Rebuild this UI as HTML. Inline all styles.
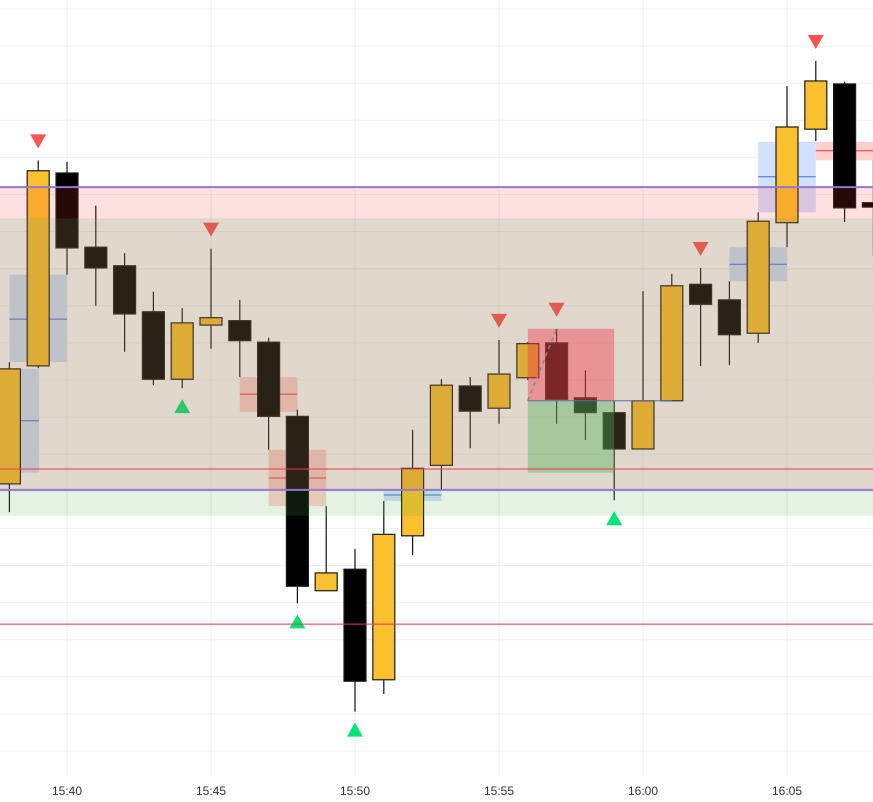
<!DOCTYPE html>
<html><head><meta charset="utf-8"><style>
html,body{margin:0;padding:0;background:#fff;}
svg{display:block;font-family:"Liberation Sans",sans-serif;}
</style></head><body>
<svg id="chart" width="873" height="802" viewBox="0 0 873 802" xmlns="http://www.w3.org/2000/svg">
<g id="grid"></g>
<g id="boxes"></g>
<g id="candles"></g>
<g id="markers"></g>
<g id="zones"></g>
<g id="position"></g>
<g id="lines"></g>
<g id="xaxis"></g>
</svg>
<script>
// minutes relative to 15:40 for each candle
const minutes = [-2,-1,0,1,2,3,4,5,6,7,8,9,10,11,12,13,14,15,16,17,18,19,20,21,22,23,24,25,26,27,28];
const opens  = [4536.0,4551.9,4577.9,4567.9,4565.4,4559.2,4550.1,4557.4,4558.0,4555.1,4545.1,4521.6,4524.5,4509.6,4529.0,4538.5,4549.2,4546.2,4550.3,4555.0,4547.6,4545.6,4540.7,4547.2,4562.9,4560.8,4556.3,4571.2,4583.8,4589.9,4573.9];
const highs  = [4552.4,4579.6,4579.4,4573.5,4567.1,4561.9,4559.7,4567.7,4560.8,4555.7,4546.0,4533.0,4527.2,4533.7,4543.3,4550.1,4550.4,4555.4,4555.1,4556.9,4551.3,4547.2,4562.0,4564.3,4565.1,4563.3,4572.6,4589.6,4593.0,4590.2,4579.6];
const lows   = [4532.2,4551.6,4564.2,4560.0,4553.8,4549.3,4548.9,4554.2,4550.4,4540.6,4519.9,4521.6,4505.3,4507.7,4526.4,4535.3,4540.8,4544.1,4550.0,4544.1,4541.9,4533.8,4540.7,4547.2,4551.9,4552.0,4555.0,4567.9,4582.2,4571.3,4566.8];
const closes = [4551.5,4578.2,4567.8,4565.1,4558.9,4550.1,4557.7,4558.4,4555.3,4545.1,4522.2,4524.0,4509.4,4529.2,4538.1,4549.3,4545.8,4550.8,4554.9,4547.4,4545.6,4540.7,4547.2,4562.7,4560.2,4556.1,4571.4,4584.1,4590.3,4573.2,4573.3];
const sellSignals = [1,7,17,19,24,28];
const buySignals = [6,10,12,21];
const tickMinutes = [0,5,10,15,20,25];
const tickLabels = ["15:40","15:45","15:50","15:55","16:00","16:05"];
const gridPrices = [4600,4595,4590,4585,4580,4575,4570,4565,4560,4555,4550,4545,4540,4535,4530,4525,4520,4515,4510,4505,4500];
// boxes: [startMin, endMin, top, bottom, mid]
const blueBoxStart = [-2,-2.33,24,23,11];
const blueBoxEnd   = [0,-0.97,26,25,13];
const blueBoxTop   = [4564.2,4551.5,4582.1,4567.9,4535.3];
const blueBoxBot   = [4552.4,4537.5,4572.6,4563.3,4533.7];
const blueBoxMid   = [4558.2,4544.5,4577.4,4565.6,4534.5];
const redBoxStart = [6,7,26,28];
const redBoxEnd   = [8,9,28,30];
const redBoxTop   = [4550.4,4540.6,4582.1,4566.7];
const redBoxBot   = [4545.7,4533.0,4579.6,4560.6];
const redBoxMid   = [4548.1,4536.8,4580.9,4563.6];
const zonePink = [4576.0,4571.8];
const zoneBeige = [4571.8,4535.2];
const zoneGreen = [4535.2,4531.7];
const purpleLevels = [4576.0,4535.2];
const redLevels = [4538.0,4517.1];
const posStart = 16, posEnd = 19, posTarget = 4556.9, posEntry = 4547.2, posStop = 4537.5;

const W = 873;
const X = m => 67 + m*28.8;
const Y = p => 9 + (4600 - p)*7.42;
const NS = "http://www.w3.org/2000/svg";
function mk(parent, tag, attrs){const e=document.createElementNS(NS,tag);for(const k in attrs)e.setAttribute(k,attrs[k]);document.getElementById(parent).appendChild(e);return e;}

// grid
gridPrices.forEach(p=>{const e=mk('grid','line',{x1:0,x2:W,y1:Y(p),y2:Y(p),stroke:'#f0f0f0','stroke-width':1});

});
tickMinutes.forEach((m,i)=>{const e=mk('grid','line',{x1:X(m),x2:X(m),y1:0,y2:775,stroke:'#eeeeee','stroke-width':1});


const t=mk('xaxis','text',{x:X(m),y:795,'text-anchor':'middle','font-size':12,fill:'#333'});t.textContent=tickLabels[i];

});

// boxes
blueBoxStart.forEach((s,i)=>{const x1=X(s),x2=X(blueBoxEnd[i]);
const r=mk('boxes','rect',{x:x1,y:Y(blueBoxTop[i]),width:x2-x1,height:Y(blueBoxBot[i])-Y(blueBoxTop[i]),fill:'#d3e0fd'});


const l=mk('boxes','line',{x1:x1,x2:x2,y1:Y(blueBoxMid[i]),y2:Y(blueBoxMid[i]),stroke:'#3a6ee8','stroke-width':1});

});
redBoxStart.forEach((s,i)=>{const x1=X(s),x2=X(redBoxEnd[i]);
const r=mk('boxes','rect',{x:x1,y:Y(redBoxTop[i]),width:x2-x1,height:Y(redBoxBot[i])-Y(redBoxTop[i]),fill:'#ffd0ce'});


const l=mk('boxes','line',{x1:x1,x2:x2,y1:Y(redBoxMid[i]),y2:Y(redBoxMid[i]),stroke:'#f23b30','stroke-width':1});

});

// candles
minutes.forEach((m,i)=>{const x=X(m),o=opens[i],c=closes[i],bull=c>=o;
const w=mk('candles','line',{x1:x,x2:x,y1:Y(highs[i]),y2:Y(lows[i]),stroke:'#111','stroke-width':1.2});


const top=Y(Math.max(o,c)),bot=Y(Math.min(o,c));
const b=mk('candles','rect',{x:x-11,y:top,width:22,height:Math.max(1,bot-top),fill:bull?'#fbc02d':'#000',stroke:'#1a1a1a','stroke-width':1.2});

});

// markers
sellSignals.forEach(i=>{const x=X(minutes[i]),y=Y(highs[i])-12;
const t=mk('markers','polygon',{points:`${x-8},${y-14} ${x+8},${y-14} ${x},${y}`,fill:'#ff5252'});

});
buySignals.forEach(i=>{const x=X(minutes[i]),y=Y(lows[i])+11;
const t=mk('markers','polygon',{points:`${x-8},${y+14} ${x+8},${y+14} ${x},${y}`,fill:'#00e676'});

});

// zones
[[zonePink,'rgba(242,57,57,0.157)','resistance-zone'],[zoneBeige,'rgba(147,119,77,0.286)','range-zone'],[zoneGreen,'rgba(76,170,76,0.157)','support-zone']].forEach(z=>{
const r=mk('zones','rect',{x:0,y:Y(z[0][0]),width:W,height:Y(z[0][1])-Y(z[0][0]),fill:z[1]});

});

// position tool
{const x1=X(posStart),x2=X(posEnd);
const r=mk('position','rect',{x:x1,y:Y(posTarget),width:x2-x1,height:Y(posEntry)-Y(posTarget),fill:'rgba(245,45,65,0.4)'});


const g=mk('position','rect',{x:x1,y:Y(posEntry),width:x2-x1,height:Y(posStop)-Y(posEntry),fill:'rgba(76,175,80,0.385)'});


const e=mk('position','line',{x1:x1,x2:X(posEnd+2),y1:Y(posEntry),y2:Y(posEntry),stroke:'#5a6fb0','stroke-width':1});


const d=mk('position','line',{x1:x1,y1:Y(posEntry),x2:X(posStart+1),y2:Y(posTarget),stroke:'#888','stroke-width':1.5,'stroke-dasharray':'4 4'});

}

// levels
purpleLevels.forEach(p=>{const l=mk('lines','line',{x1:0,x2:W,y1:Y(p),y2:Y(p),stroke:'#9577cd','stroke-width':2});

});
redLevels.forEach(p=>{const l=mk('lines','line',{x1:0,x2:W,y1:Y(p),y2:Y(p),stroke:'#e8384a','stroke-width':1});

});
</script>
</body></html>
